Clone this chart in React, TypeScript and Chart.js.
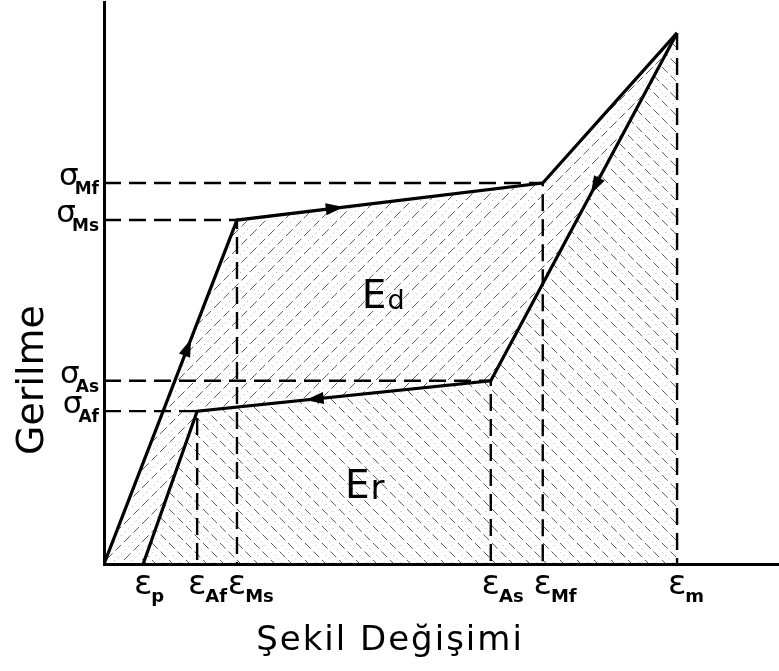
import { useEffect, useRef } from "react";
import { Chart, registerables } from "chart.js";

Chart.register(...registerables);

// Strain marks on the horizontal axis (arbitrary units)
const strainKeys = ["p", "Af", "Ms", "As", "Mf", "m"];
const strainValues = [0.58, 1.38, 1.97, 5.73, 6.5, 8.49];

// Stress marks on the vertical axis (arbitrary units)
const stressKeys = ["Mf", "Ms", "As", "Af"];
const stressValues = [6.78, 6.12, 3.26, 2.72];

// Stress reached at the maximum strain
const peakStress = 9.45;

const xMax = 10;
const yMax = 10;

// Area labels: dissipated (Ed) and recovered (Er) energy
const areaMain = ["E", "E"];
const areaSub = ["d", "r"];
const areaX = [3.82, 3.57];
const areaY = [4.56, 1.17];

const xTitle = "Şekil Değişimi";
const yTitle = "Gerilme";

type Pt = { x: number; y: number };

const eps: Record<string, number> = Object.fromEntries(strainKeys.map((k, i) => [k, strainValues[i]]));
const sig: Record<string, number> = Object.fromEntries(stressKeys.map((k, i) => [k, stressValues[i]]));

const loadingPath: Pt[] = [
  { x: 0, y: 0 },
  { x: eps.Ms, y: sig.Ms },
  { x: eps.Mf, y: sig.Mf },
  { x: eps.m, y: peakStress },
];

const unloadingPath: Pt[] = [
  { x: eps.m, y: peakStress },
  { x: eps.As, y: sig.As },
  { x: eps.Af, y: sig.Af },
  { x: eps.p, y: 0 },
];

// Dashed projections from the transformation points to both axes
const guidePaths: Pt[][] = [
  ...stressKeys.map((k) => [
    { x: 0, y: sig[k] },
    { x: eps[k], y: sig[k] },
    { x: eps[k], y: 0 },
  ]),
  [
    { x: eps.m, y: peakStress },
    { x: eps.m, y: 0 },
  ],
];

// Direction arrows: which path, which segment, and how far along it
const arrowPath = ["load", "load", "unload", "unload"];
const arrowSegment = [0, 1, 0, 1];
const arrowAt = [0.63, 0.32, 0.44, 0.6];

const FONT = "'DejaVu Sans', 'Liberation Sans', sans-serif";

function makeHatch(dir: 1 | -1, size: number, strong: string, faint: string): CanvasPattern | string {
  const c = document.createElement("canvas");
  c.width = size;
  c.height = size;
  const g = c.getContext("2d");
  if (!g) return "transparent";
  const seg = (k: number) => {
    g.beginPath();
    if (dir > 0) {
      // "/" lines: y = -x + k*size
      g.moveTo(-1, k * size + 1);
      g.lineTo(size + 1, k * size - size - 1);
    } else {
      // "\" lines: y = x + k*size
      g.moveTo(-1, k * size - 1);
      g.lineTo(size + 1, k * size + size + 1);
    }
    g.stroke();
  };
  g.lineWidth = 1;
  g.strokeStyle = strong;
  g.setLineDash([8, 4]);
  (dir > 0 ? [0, 1, 2] : [-1, 0, 1]).forEach(seg);
  g.strokeStyle = faint;
  g.setLineDash([1, 4]);
  (dir > 0 ? [0.5, 1.5] : [-0.5, 0.5]).forEach(seg);
  return g.createPattern(c, "repeat") ?? "transparent";
}

export default function App() {
  const canvasRef = useRef<HTMLCanvasElement | null>(null);

  useEffect(() => {
    const canvas = canvasRef.current;
    if (!canvas) return;

    const edFill = makeHatch(1, 18, "rgba(20,20,20,0.7)", "rgba(60,60,60,0.5)");
    const erFill = makeHatch(-1, 17, "rgba(20,20,20,0.7)", "rgba(60,60,60,0.5)");

    const decor = {
      id: "diagramDecor",
      beforeDatasetsDraw(chart: Chart) {
        const { ctx } = chart;
        const sx = chart.scales.x;
        const sy = chart.scales.y;
        const polygon = (pts: Pt[], style: CanvasPattern | string) => {
          ctx.save();
          ctx.beginPath();
          pts.forEach((p, i) => {
            const px = sx.getPixelForValue(p.x);
            const py = sy.getPixelForValue(p.y);
            if (i === 0) ctx.moveTo(px, py);
            else ctx.lineTo(px, py);
          });
          ctx.closePath();
          ctx.fillStyle = style;
          ctx.fill();
          ctx.restore();
        };
        polygon([...loadingPath, ...unloadingPath.slice(1)], edFill);
        polygon([...unloadingPath, { x: eps.m, y: 0 }], erFill);
      },
      afterDatasetsDraw(chart: Chart) {
        const { ctx } = chart;
        const sx = chart.scales.x;
        const sy = chart.scales.y;

        // arrowheads
        arrowPath.forEach((name, i) => {
          const path = name === "load" ? loadingPath : unloadingPath;
          const a = path[arrowSegment[i]];
          const b = path[arrowSegment[i] + 1];
          const ax = sx.getPixelForValue(a.x);
          const ay = sy.getPixelForValue(a.y);
          const bx = sx.getPixelForValue(b.x);
          const by = sy.getPixelForValue(b.y);
          const t = arrowAt[i];
          const px = ax + (bx - ax) * t;
          const py = ay + (by - ay) * t;
          const len = Math.hypot(bx - ax, by - ay);
          const dx = (bx - ax) / len;
          const dy = (by - ay) / len;
          const L = 18;
          const W = 6;
          ctx.save();
          ctx.fillStyle = "#000";
          ctx.beginPath();
          ctx.moveTo(px + dx * L * 0.5, py + dy * L * 0.5);
          ctx.lineTo(px - dx * L * 0.5 - dy * W, py - dy * L * 0.5 + dx * W);
          ctx.lineTo(px - dx * L * 0.5 + dy * W, py - dy * L * 0.5 - dx * W);
          ctx.closePath();
          ctx.fill();
          ctx.restore();
        });

        // area labels
        ctx.save();
        ctx.fillStyle = "#000";
        ctx.textBaseline = "alphabetic";
        ctx.textAlign = "left";
        areaMain.forEach((m, i) => {
          const px = sx.getPixelForValue(areaX[i]);
          const py = sy.getPixelForValue(areaY[i]);
          ctx.font = `39px ${FONT}`;
          ctx.fillText(m, px, py);
          const w = ctx.measureText(m).width;
          ctx.font = areaSub[i] === "r" ? `34px ${FONT}` : `27px ${FONT}`;
          ctx.fillText(areaSub[i], px + w + 1, py + 1);
        });
        ctx.restore();
      },
      afterDraw(chart: Chart) {
        const { ctx } = chart;
        const sx = chart.scales.x;
        const sy = chart.scales.y;
        const area = chart.chartArea;
        ctx.save();
        ctx.fillStyle = "#000";
        ctx.textAlign = "left";
        ctx.textBaseline = "alphabetic";

        // strain tick labels: ε centred on the mark, subscript to its right
        strainKeys.forEach((k, i) => {
          const px = sx.getPixelForValue(strainValues[i]);
          ctx.font = `34px ${FONT}`;
          const w = ctx.measureText("ε").width;
          ctx.fillText("ε", px - w / 2, area.bottom + 30);
          ctx.font = `bold 18px ${FONT}`;
          ctx.fillText(k, px + w / 2 - 1, area.bottom + 38);
        });

        // stress tick labels: right-aligned against the axis
        stressKeys.forEach((k, i) => {
          const py = sy.getPixelForValue(stressValues[i]);
          ctx.font = `bold 17px ${FONT}`;
          const sw = ctx.measureText(k).width;
          const right = area.left - 5;
          ctx.fillText(k, right - sw, py + 11);
          ctx.font = `31px ${FONT}`;
          const gw = ctx.measureText("σ").width;
          ctx.fillText("σ", right - sw - gw + 4, py + 2);
        });

        // axis titles
        ctx.font = `34px ${FONT}`;
        (ctx as any).letterSpacing = "2px";
        ctx.textAlign = "center";
        ctx.fillText(xTitle, 390, area.bottom + 86);
        (ctx as any).letterSpacing = "0px";

        ctx.translate(43, area.bottom - 184);
        ctx.rotate(-Math.PI / 2);
        ctx.font = `38px ${FONT}`;
        ctx.textAlign = "center";
        ctx.fillText(yTitle, 0, 0);
        ctx.restore();
      },
    };

    const lineStyle = {
      borderColor: "#000",
      borderWidth: 3.2,
      pointRadius: 0,
      showLine: true,
      fill: false,
      tension: 0,
    };

    const chart = new Chart(canvas, {
      type: "scatter",
      data: {
        datasets: [
          ...guidePaths.map((pts) => ({
            data: pts,
            borderColor: "#000",
            borderWidth: 2.4,
            borderDash: [17, 8],
            pointRadius: 0,
            showLine: true,
            fill: false,
          })),
          { data: loadingPath, ...lineStyle },
          { data: unloadingPath, ...lineStyle },
        ],
      },
      options: {
        animation: false,
        responsive: false,
        events: [],
        layout: { padding: { left: 104, right: 0, top: 2, bottom: 107 } },
        plugins: {
          legend: { display: false },
          tooltip: { enabled: false },
          title: { display: false },
        },
        scales: {
          x: {
            type: "linear",
            min: 0,
            max: xMax,
            grid: { display: false, drawTicks: false },
            border: { display: true, color: "#000", width: 3 },
            ticks: { display: false },
          },
          y: {
            type: "linear",
            min: 0,
            max: yMax,
            grid: { display: false, drawTicks: false },
            border: { display: true, color: "#000", width: 3 },
            ticks: { display: false },
          },
        },
      },
      plugins: [decor],
    });

    return () => chart.destroy();
  }, []);

  return (
    <div style={{ position: "absolute", left: 0, top: 0, width: 779, height: 671, background: "#fff" }}>
      <canvas ref={canvasRef} width={779} height={671} />
    </div>
  );
}
